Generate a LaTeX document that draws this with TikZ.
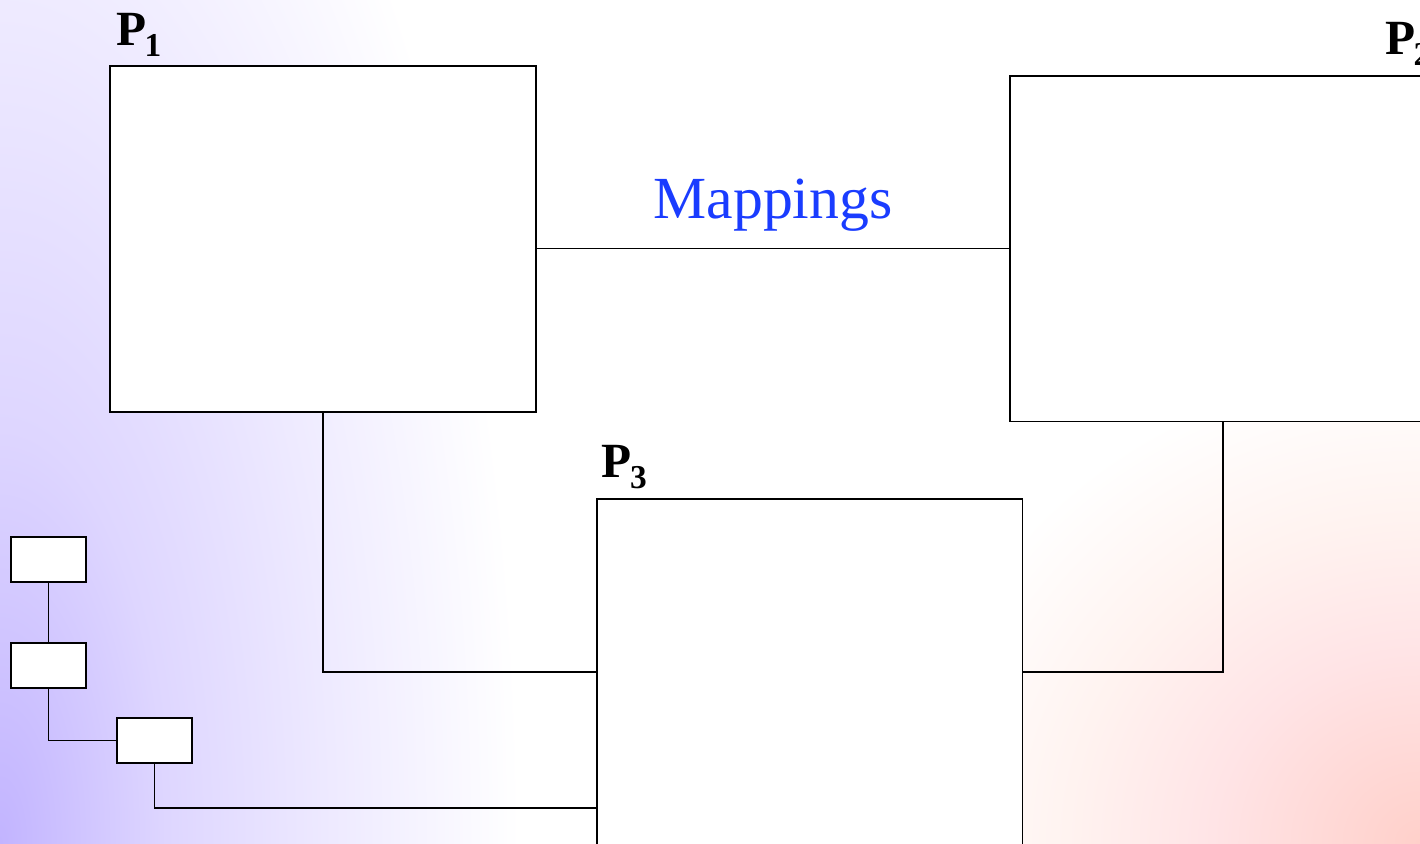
\documentclass[tikz,border=0pt]{standalone}
\usepackage{fontspec}
\setmainfont{Liberation Serif}
\usetikzlibrary{calc}

\definecolor{mapblue}{RGB}{26,60,255}
\definecolor{lavcore}{RGB}{194,180,255}
\definecolor{lavmid}{RGB}{222,214,255}
\definecolor{lavpink}{RGB}{238,234,255}
\definecolor{rosecore}{RGB}{255,208,202}
\definecolor{rosemid}{RGB}{255,228,230}
\definecolor{peach}{RGB}{255,243,240}
\pgfdeclareradialshading{lavglow}{\pgfpoint{0bp}{0bp}}{color(0bp)=(lavcore); color(8bp)=(lavmid); color(16bp)=(lavpink); color(25bp)=(white); color(50bp)=(white)}
\pgfdeclareradialshading{roseglow}{\pgfpoint{0bp}{0bp}}{color(0bp)=(rosecore); color(10bp)=(rosemid); color(17bp)=(peach); color(25bp)=(white); color(50bp)=(white)}

\newcommand{\idx}[1]{\kern-1pt\raisebox{-6.5pt}{\fontsize{19}{20}\selectfont #1}}

\begin{document}
\begin{tikzpicture}[
  x=0.02cm, y=-0.02cm,
  panel/.style={draw, fill=white, line width=1.1pt, minimum width=8.52cm, minimum height=6.92cm, inner sep=0pt},
  tile/.style={draw, fill=white, line width=1.1pt, minimum width=1.5cm, minimum height=0.9cm, inner sep=0pt},
  link/.style={line width=1.1pt},
  tag/.style={anchor=base west, inner sep=0pt, font=\fontsize{28}{30}\selectfont\bfseries},
  maplabel/.style={inner sep=0pt, text=mapblue, font=\fontsize{34}{36}\selectfont}
]
\useasboundingbox (0,0) rectangle (1420,843);
\begin{scope}
  \clip (0,0) rectangle (1420,843);
  \fill[white] (0,0) rectangle (1420,843);
  \shade[shading=lavglow] (0,843) ellipse [x radius=520, y radius=1300];
  \shade[shading=roseglow] (1420,843) ellipse [x radius=520, y radius=480];
\end{scope}

\node[panel] (p1) at (323,239) {};
\node[panel] (p2) at (1223,248.5) {};
\node[panel] (p3) at (809.5,672) {};
\node[tile] (t1) at (48.5,559.5) {};
\node[tile] (t2) at (48.5,665.5) {};
\node[tile] (t3) at (154.5,740.5) {};

\node[tag] (p1tag) at ($(p1.north west)+(7,-20)$) {P\idx{1}};
\node[tag] (p2tag) at ($(p2.north east)+(-52,-20)$) {P\idx{2}};
\node[tag] (p3tag) at ($(p3.north west)+(6,-21)$) {P\idx{3}};

\coordinate (p3port) at ($(p3.south west)+(0,-38)$);

\draw[link] (p2.west) -- node[maplabel, above=9pt] {Mappings} (p2.west -| p1.east);
\draw[link] (p1.south) |- (p3.west);
\draw[link] (p3.east) -| (p2.south);
\draw[link] (t1) -- (t2);
\draw[link] (t2.south) |- (t3.west);
\draw[link] (t3.south) |- (p3port);
\end{tikzpicture}
\end{document}
